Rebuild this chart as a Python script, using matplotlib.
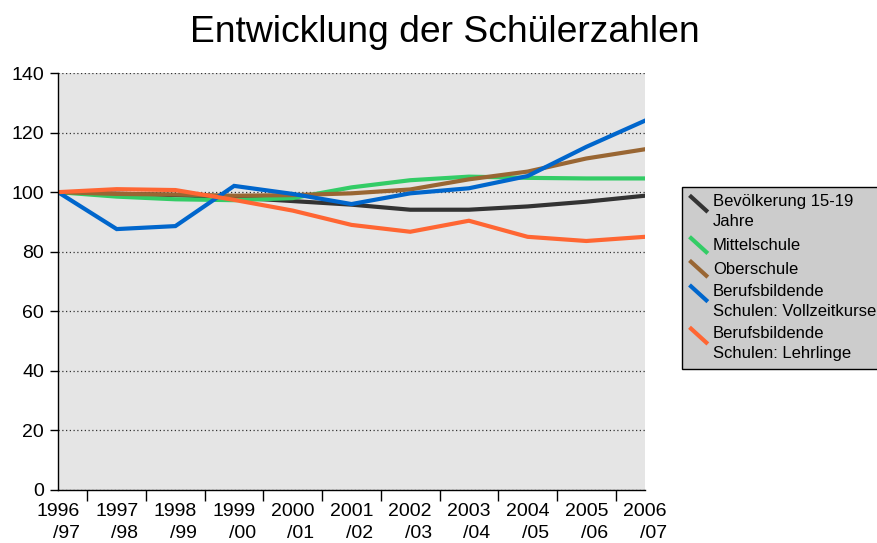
import matplotlib
matplotlib.use('agg')
import matplotlib.pyplot as plt
from matplotlib.legend_handler import HandlerBase
from matplotlib.lines import Line2D
import numpy as np

plt.rcParams['font.family'] = ['Liberation Sans', 'DejaVu Sans']

# school years and index values (1996/97 = 100)
years = ['1996\n/97', '1997\n/98', '1998\n/99', '1999\n/00', '2000\n/01', '2001\n/02',
         '2002\n/03', '2003\n/04', '2004\n/05', '2005\n/06', '2006\n/07']
bevoelkerung = [100, 99.5, 99.0, 98.2, 97.0, 95.8, 94.1, 94.1, 95.2, 96.8, 98.8]
mittelschule = [100, 98.5, 97.6, 97.3, 98.0, 101.6, 104.0, 105.2, 104.8, 104.6, 104.6]
oberschule = [100, 99.4, 99.2, 98.8, 99.0, 99.6, 100.9, 104.3, 106.9, 111.3, 114.4]
vollzeit = [100, 87.6, 88.6, 102.1, 99.4, 96.0, 99.6, 101.3, 105.4, 115.2, 124.0]
lehrlinge = [100, 101.0, 100.7, 97.4, 93.8, 89.0, 86.7, 90.4, 85.0, 83.6, 85.0]

series = [
    ('Bevölkerung 15-19\nJahre', bevoelkerung, '#333333'),
    ('Mittelschule', mittelschule, '#33cc66'),
    ('Oberschule', oberschule, '#996633'),
    ('Berufsbildende\nSchulen: Vollzeitkurse', vollzeit, '#0066cc'),
    ('Berufsbildende\nSchulen: Lehrlinge', lehrlinge, '#ff6633'),
]

LEG_FS = 12
LEG_LS = 1.4
line_pt = LEG_LS * 0.729 * LEG_FS


class DiagHandler(HandlerBase):
    # excel style diagonal legend key, aligned to the first text line
    def __init__(self, lift=0):
        super().__init__()
        self.lift = lift

    def create_artists(self, legend, orig_handle, xdescent, ydescent, width, height, fontsize, trans):
        x0 = -xdescent
        x1 = -xdescent + width
        y0 = self.lift + 1.0 * fontsize
        y1 = self.lift
        line = Line2D([x0, x1], [y0, y1], color=orig_handle.get_color(),
                      lw=orig_handle.get_linewidth(), solid_capstyle='butt')
        line.set_transform(trans)
        return [line]


fig = plt.figure(figsize=(8.78, 5.43), dpi=100)
ax = fig.add_axes([58 / 878, 1 - 490 / 543, 587 / 878, 417 / 543])
ax.set_facecolor('#e5e5e5')

x = np.arange(len(years))
handles = []
hmap = {}
for label, vals, col in series:
    ln, = ax.plot(x, vals, color=col, lw=3, label=label, solid_joinstyle='miter')
    handles.append(ln)
    hmap[ln] = DiagHandler(lift=-2.5 + 0.55 * line_pt * label.count('\n'))

ax.set_xlim(0, len(years) - 1)
ax.set_ylim(0, 140)
ax.set_yticks(np.arange(0, 141, 20))
ax.yaxis.grid(True, linestyle=(0, (1, 2)), color='#333333', lw=0.9)
ax.set_axisbelow(True)

ax.set_xticks(x[:-1] + 0.5)
ax.set_xticklabels([])
ax.set_xticks(x, minor=True)
ax.set_xticklabels(years, minor=True, fontsize=14, linespacing=1.35, multialignment='right')
ax.tick_params(axis='x', which='major', length=8, width=1, direction='out')
ax.tick_params(axis='x', which='minor', length=0, pad=9.5)
ax.tick_params(axis='y', labelsize=14, length=6, width=1, pad=4)

for s in ['top', 'right']:
    ax.spines[s].set_visible(False)
for s in ['left', 'bottom']:
    ax.spines[s].set_color('black')
    ax.spines[s].set_linewidth(1)

fig.text(445 / 878, 1 - 42 / 543, 'Entwicklung der Schülerzahlen', fontsize=26.8,
         ha='center', va='baseline')

leg = fig.legend(handles=handles, handler_map=hmap, loc='upper left',
                 bbox_to_anchor=(682 / 878, 1 - 187 / 543), borderaxespad=0,
                 fontsize=LEG_FS, handlelength=1.1, handleheight=1.0, handletextpad=0.3,
                 labelspacing=0.45, borderpad=0.45, fancybox=False, framealpha=1,
                 facecolor='#cccccc', edgecolor='black')
leg.get_frame().set_linewidth(1)
for t in leg.get_texts():
    t.set_linespacing(LEG_LS)

fig.savefig('out.png', dpi=100)
